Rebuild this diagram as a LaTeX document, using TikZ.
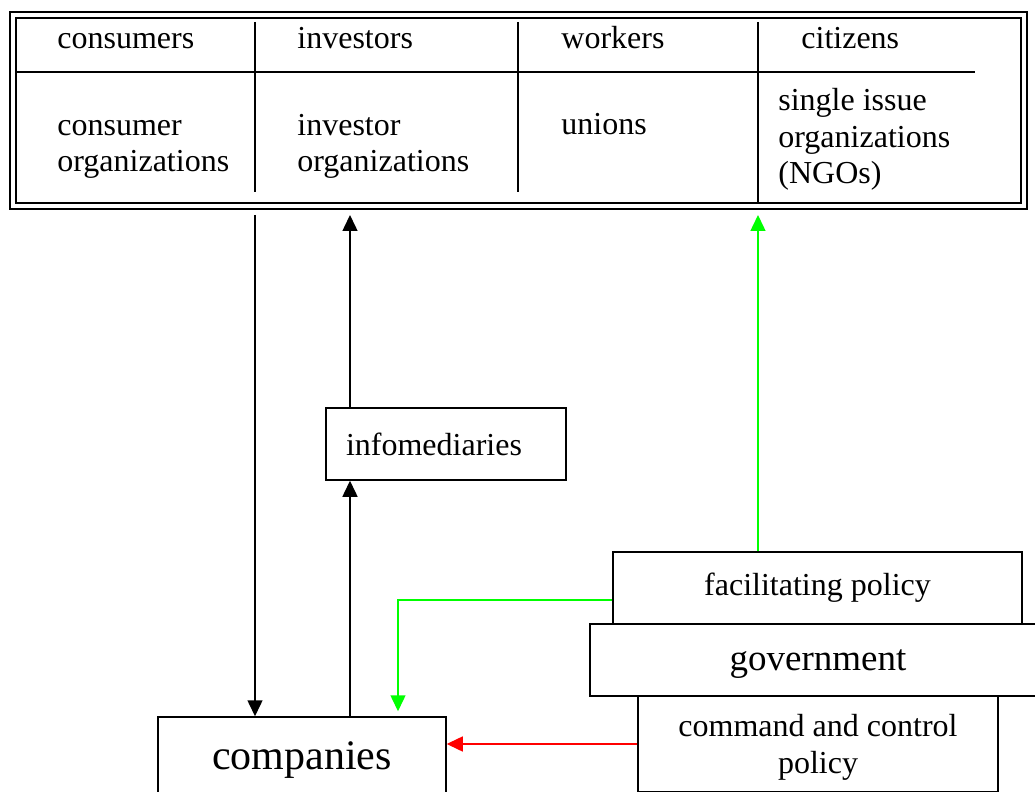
\documentclass[tikz,border=0pt]{standalone}
\usepackage{fontspec}
\setmainfont{Liberation Serif}
\usetikzlibrary{arrows.meta}

\tikzset{
  box/.style={draw, line width=0.75pt, inner sep=0pt},
  cell/.style={anchor=base west, align=left, inner sep=0pt},
  link/.style={line width=0.75pt, -{Triangle[width=7.5pt,length=8pt]}},
}

\begin{document}
\begin{tikzpicture}[x=0.5pt, y=-0.5pt, font=\fontsize{16}{18.3}\selectfont]
  \useasboundingbox (0,0) rectangle (1035,792);
  \clip (0,0) rectangle (1035,792);

  % Stakeholder table
  \node (stake) at (518.5,110.5) [draw, line width=0.75pt, double, double distance=2.25pt,
    minimum width=505.5pt, minimum height=95.5pt, inner sep=0pt, outer sep=4.5pt] {};
  \draw[line width=0.75pt] (15,72) -- (975,72);
  \draw[line width=0.75pt] (255,22) -- (255,192);
  \draw[line width=0.75pt] (518,22) -- (518,192);
  \draw[line width=0.75pt] (758,22) -- (758,204);

  % (base of a node with several lines = last line)
  \node (consumers) at (57,49) [cell] {consumers};
  \node (investors) at (297,49) [cell] {investors};
  \node (workers) at (561,49) [cell] {workers};
  \node (citizens) at (801,49) [cell] {citizens};
  \node (consorg) at (57,172) [cell] {consumer\\organizations};
  \node (invorg) at (297,172) [cell] {investor\\organizations};
  \node (unions) at (561,135) [cell] {unions};
  \node (ngos) at (778,184) [cell] {single issue\\organizations\\(NGOs)};

  % Actors
  \node (info) at (446,444) [box, minimum height=36pt, text width=100pt, inner xsep=10pt, align=left] {infomediaries};
  \node (companies) at (302,756) [box, minimum width=144pt, minimum height=39pt, text depth=0pt, font=\fontsize{21}{24}\selectfont] {companies};
  \node (facil) at (817.5,588) [box, minimum width=204.5pt, minimum height=36pt] {facilitating policy};
  \node (govt) at (818,660) [box, minimum width=228pt, minimum height=36pt, text depth=0pt, font=\fontsize{18.5}{21}\selectfont] {government};
  \node (command) at (818,744) [box, minimum width=180pt, minimum height=48pt, text depth=0pt, align=center] {command and control\\policy};

  % Column positions of the connectors
  \coordinate (c1) at (255,0);
  \coordinate (c2) at (350,0);
  \coordinate (c3) at (758,0);
  \coordinate (c4) at (398,0);

  % Information flows
  \draw[link] (stake.south -| c1) -- (companies.north -| c1);
  \draw[link] (companies.north -| c2) -- (info.south -| c2);
  \draw[link] (info.north -| c2) -- (stake.south -| c2);

  % Policy
  \draw[link, green] (facil.north -| c3) -- (stake.south -| c3);
  \draw[link, green] ([yshift=-6pt]facil.west) -| ([yshift=2.5pt]companies.north -| c4);
  \draw[link, red] (command.west) -- (companies.east |- command.west);

\end{tikzpicture}
\end{document}
